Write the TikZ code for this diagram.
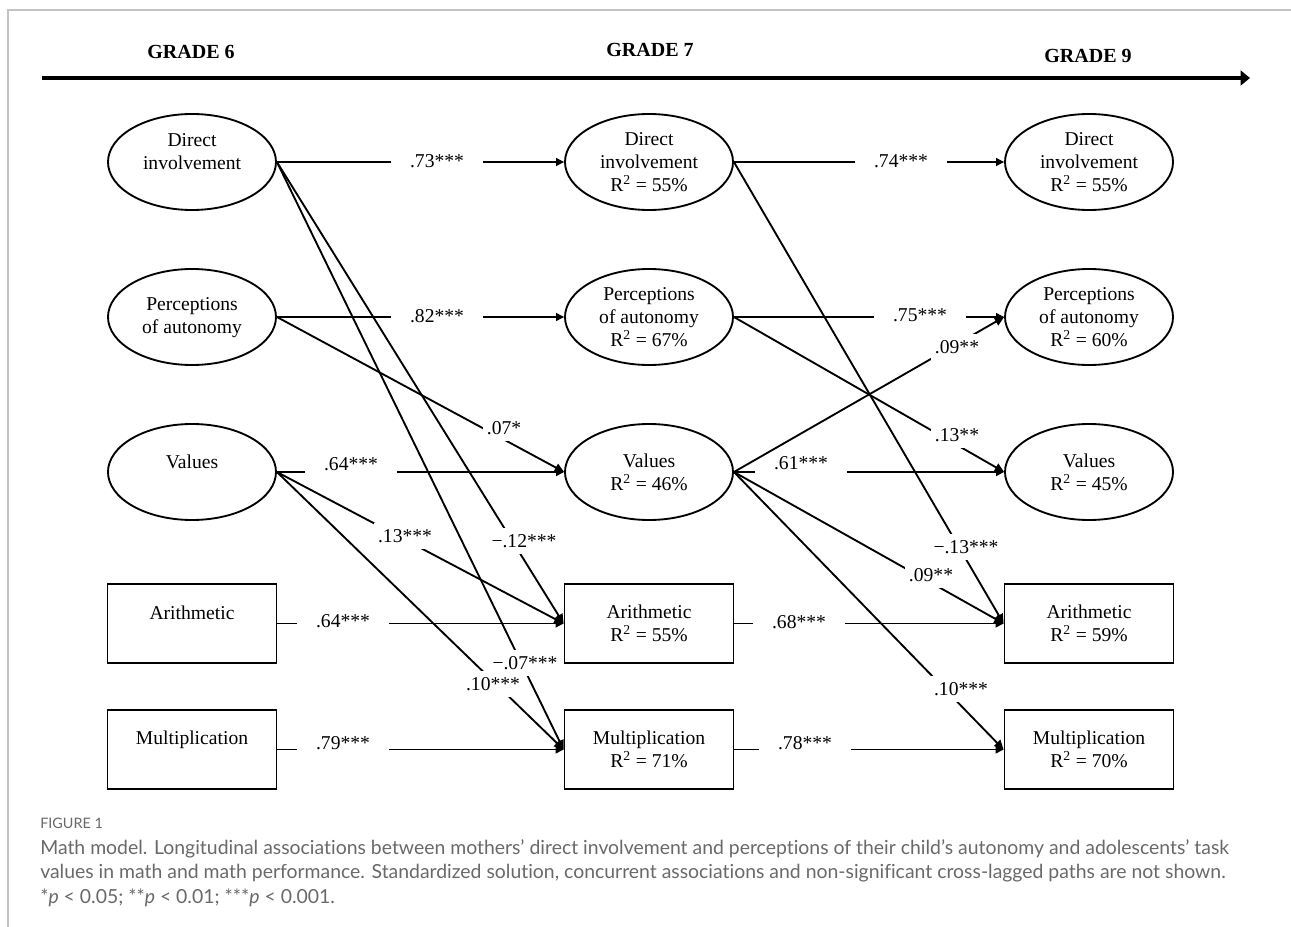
\documentclass[tikz,border=0pt]{standalone}
\usepackage{fontspec}
\setmainfont{Liberation Serif}
\newfontfamily\capfont[Ligatures=NoCommon]{Lato}
\usetikzlibrary{shapes.geometric,arrows.meta}
\definecolor{framegray}{RGB}{195,195,195}
\definecolor{capgray}{RGB}{105,105,105}
\newcommand{\nfont}{\fontsize{14.7pt}{17.25pt}\selectfont}
\newcommand{\gfont}{\fontsize{15pt}{18pt}\selectfont\bfseries}
\newcommand{\cfont}{\capfont\fontsize{14.55pt}{18pt}\selectfont}
\newcommand{\ffont}{\capfont\fontsize{10.8pt}{12pt}\selectfont}
\begin{document}
\begin{tikzpicture}[x=0.75pt,y=-0.75pt,
  ell/.style={ellipse,draw,line width=1.4pt,minimum width=126pt,minimum height=72pt,inner sep=0pt,align=center,font=\nfont},
  bx/.style={rectangle,draw,line width=1.4pt,minimum width=126.75pt,minimum height=59.25pt,inner sep=0pt,align=center,font=\nfont},
  txt/.style={align=center,font=\nfont,inner sep=0pt},
  hlbl/.style={fill=white,font=\nfont,minimum width=69pt,minimum height=19pt,inner sep=0pt},
  dlbl/.style={fill=white,font=\nfont,minimum height=20pt,inner xsep=3pt,inner ysep=0pt},
  hp/.style={line width=0.8pt,-{Triangle[length=6pt,width=6pt]}},
  dp/.style={line width=1.4pt,-{Triangle[length=7pt,width=6.5pt]}},
  grade/.style={font=\gfont,inner sep=0pt},
  captxt/.style={anchor=base west,inner sep=0pt,text=capgray,font=\cfont},
  timeline/.style={line width=2.6pt,-{Triangle[length=7pt,width=11pt]}},
]
\useasboundingbox (0,0) rectangle (1291,927);
% frame
\coordinate (fa) at (8,927);
\coordinate (fb) at (8,10);
\coordinate (fc) at (1291,10);
\draw[framegray,line width=1.1pt] (fa) -- (fb) -- (fc);

% timeline
\node[grade] (g6) at (191,52) {GRADE 6};
\node[grade] (g7) at (650,50) {GRADE 7};
\node[grade] (g9) at (1088,56) {GRADE 9};
\coordinate (t0) at (42,78);
\coordinate (t1) at (1250,78);
\draw[timeline] (t0) -- (t1);

% column 1
\node[ell] (d1) at (192,162) {};
\node[txt] (d1t) at (192,152) {Direct\\involvement};
\node[ell] (p1) at (192,317) {};
\node[txt] (p1t) at (192,318) {Perceptions\\of autonomy};
\node[ell] (v1) at (192,472) {};
\node[txt] (v1t) at (192,462) {Values};
\node[bx] (a1) at (192,623.5) {};
\node[txt] (a1t) at (192,613) {Arithmetic};
\node[bx] (m1) at (192,749.5) {};
\node[txt] (m1t) at (192,740) {Multiplication};

% column 2
\node[ell] (d2) at (649,162) {Direct\\involvement\\R\textsuperscript{2} = 55\%};
\node[ell] (p2) at (649,317) {Perceptions\\of autonomy\\R\textsuperscript{2} = 67\%};
\node[ell] (v2) at (649,472) {Values\\R\textsuperscript{2} = 46\%};
\node[bx] (a2) at (649,623.5) {Arithmetic\\R\textsuperscript{2} = 55\%};
\node[bx] (m2) at (649,749.5) {Multiplication\\R\textsuperscript{2} = 71\%};

% column 3
\node[ell] (d3) at (1089,162) {Direct\\involvement\\R\textsuperscript{2} = 55\%};
\node[ell] (p3) at (1089,317) {Perceptions\\of autonomy\\R\textsuperscript{2} = 60\%};
\node[ell] (v3) at (1089,472) {Values\\R\textsuperscript{2} = 45\%};
\node[bx] (a3) at (1089,623.5) {Arithmetic\\R\textsuperscript{2} = 59\%};
\node[bx] (m3) at (1089,749.5) {Multiplication\\R\textsuperscript{2} = 70\%};

% horizontal paths
\draw[hp] (d1.east) -- (d2.west);
\draw[hp] (d2.east) -- (d3.west);
\draw[hp] (p1.east) -- (p2.west);
\draw[hp] (p2.east) -- (p3.west);
\draw[hp] (v1.east) -- (v2.west);
\draw[hp] (v2.east) -- (v3.west);
\draw[hp] (a1.east) -- (a2.west);
\draw[hp] (a2.east) -- (a3.west);
\draw[hp] (m1.east) -- (m2.west);
\draw[hp] (m2.east) -- (m3.west);

% cross-lagged paths (first group)
\draw[dp] (p1.east) -- (v2.west);
\draw[dp] (v1.east) -- (a2.west);
\draw[dp] (v1.east) -- (m2.west);
\draw[dp] (d1.east) -- (a2.west);
\draw[dp] (p2.east) -- (v3.west);
\draw[dp] (v2.east) -- (a3.west);
\draw[dp] (v2.east) -- (m3.west);

% labels
\node[hlbl] (l1) at (437,161) {.73***};
\node[hlbl] (l2) at (901,161) {.74***};
\node[hlbl] (l3) at (437,316) {.82***};
\node[hlbl] (l4) at (920,315) {.75***};
\node[hlbl] (l5) at (351,464) {.64***};
\node[hlbl] (l6) at (801,463) {.61***};
\node[hlbl] (l7) at (343,621) {.64***};
\node[hlbl] (l8) at (799,622) {.68***};
\node[hlbl] (l9) at (343,743) {.79***};
\node[hlbl] (l10) at (805,743) {.78***};
\node[dlbl] (l11) at (504,428) {.07*};
\node[dlbl] (l12) at (405,536) {.13***};
\node[dlbl] (l13) at (524,541) {−.12***};
\node[dlbl] (l14) at (493,684) {.10***};
\node[dlbl] (l15) at (957,435) {.13**};
\node[dlbl] (l16) at (931,575) {.09**};
\node[dlbl] (l17) at (961,689) {.10***};

% later paths drawn over earlier labels
\draw[dp] (d1.east) -- (m2.west);
\node[dlbl] (l18) at (525,663) {−.07***};
\draw[dp] (d2.east) -- (a3.west);
\node[dlbl] (l19) at (966,547) {−.13***};
\draw[dp] (v2.east) -- (p3.west);
\node[dlbl] (l20) at (957,347) {.09**};

% caption
\node[captxt,font=\ffont] (fig) at (40,828) {FIGURE 1};
\node[captxt] (c1) at (40,854) {Math model. Longitudinal associations between mothers’ direct involvement and perceptions of their child’s autonomy and adolescents’ task};
\node[captxt] (c2) at (40,878) {values in math and math performance. Standardized solution, concurrent associations and non-significant cross-lagged paths are not shown.};
\node[captxt] (c3) at (40,903) {*\textit{p} < 0.05; **\textit{p} < 0.01; ***\textit{p} < 0.001.};
\end{tikzpicture}
\end{document}
